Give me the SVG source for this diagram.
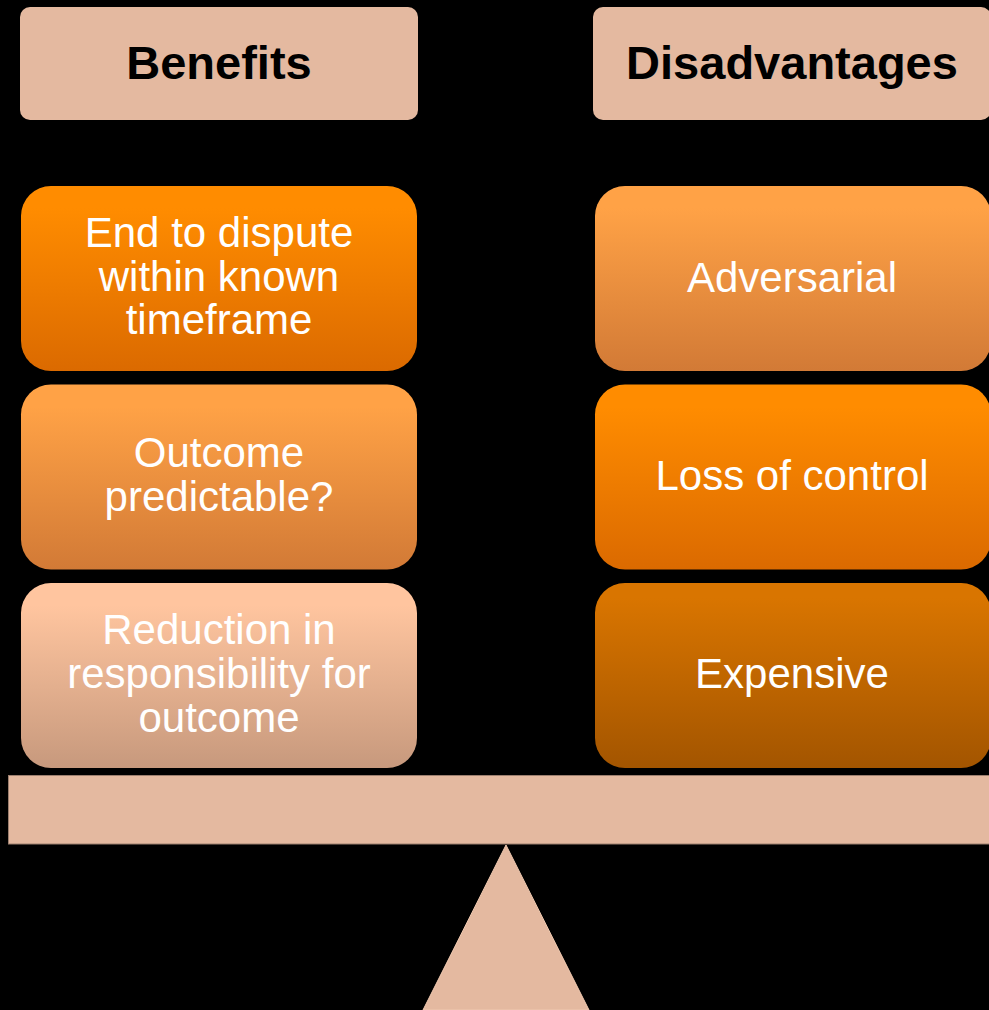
<svg xmlns="http://www.w3.org/2000/svg" width="989" height="1010" viewBox="0 0 989 1010">
  <defs>
    <linearGradient id="gOrange" x1="0" y1="0" x2="0" y2="1">
      <stop offset="0.12" stop-color="#ff8c00"/>
      <stop offset="1" stop-color="#db6a00"/>
    </linearGradient>
    <linearGradient id="gLight" x1="0" y1="0" x2="0" y2="1">
      <stop offset="0.12" stop-color="#ffa246"/>
      <stop offset="1" stop-color="#d27a36"/>
    </linearGradient>
    <linearGradient id="gPale" x1="0" y1="0" x2="0" y2="1">
      <stop offset="0.12" stop-color="#ffc59f"/>
      <stop offset="1" stop-color="#c7997d"/>
    </linearGradient>
    <linearGradient id="gDark" x1="0" y1="0" x2="0" y2="1">
      <stop offset="0.08" stop-color="#d97500"/>
      <stop offset="1" stop-color="#a35500"/>
    </linearGradient>
  </defs>
  <style>
    .hdr { fill: #e4b9a0; }
    .hdr-t { font-family: "Liberation Sans", Arial, sans-serif; font-weight: bold; font-size: 47px; fill: #000; text-anchor: middle; }
    .item-t { font-family: "Liberation Sans", Arial, sans-serif; font-size: 42px; fill: #fff; text-anchor: middle; }
    .base { fill: #e4b9a0; }
  </style>

  <rect width="989" height="1010" fill="#000"/>

  <!-- column headers -->
  <g id="hdr-benefits">
    <rect class="hdr" x="20" y="7" width="398" height="113" rx="10"/>
    <text class="hdr-t" x="219" y="79">Benefits</text>
  </g>
  <g id="hdr-disadvantages">
    <rect class="hdr" x="593" y="7" width="398" height="113" rx="10"/>
    <text class="hdr-t" x="792" y="79">Disadvantages</text>
  </g>

  <!-- benefits column -->
  <g id="b-end">
    <rect x="21" y="186" width="396" height="185" rx="30" fill="url(#gOrange)"/>
    <text class="item-t" x="219" y="247">End to dispute</text>
    <text class="item-t" x="219" y="290.5">within known</text>
    <text class="item-t" x="219" y="334">timeframe</text>
  </g>
  <g id="b-outcome">
    <rect x="21" y="384.5" width="396" height="185" rx="30" fill="url(#gLight)"/>
    <text class="item-t" x="219" y="467">Outcome</text>
    <text class="item-t" x="219" y="511">predictable?</text>
  </g>
  <g id="b-reduction">
    <rect x="21" y="583" width="396" height="185" rx="30" fill="url(#gPale)"/>
    <text class="item-t" x="219" y="644">Reduction in</text>
    <text class="item-t" x="219" y="688">responsibility for</text>
    <text class="item-t" x="219" y="732">outcome</text>
  </g>

  <!-- disadvantages column -->
  <g id="d-adversarial">
    <rect x="595" y="186" width="396" height="185" rx="30" fill="url(#gLight)"/>
    <text class="item-t" x="792" y="292">Adversarial</text>
  </g>
  <g id="d-control">
    <rect x="595" y="384.5" width="396" height="185" rx="30" fill="url(#gOrange)"/>
    <text class="item-t" x="792" y="490">Loss of control</text>
  </g>
  <g id="d-expensive">
    <rect x="595" y="583" width="396" height="185" rx="30" fill="url(#gDark)"/>
    <text class="item-t" x="792" y="688">Expensive</text>
  </g>

  <!-- balance beam and fulcrum -->
  <g id="beam">
    <rect class="base" x="8.5" y="775.5" width="990" height="68.5" stroke="#9c7f6f" stroke-width="1"/>
  </g>
  <g id="fulcrum">
    <polygon class="base" points="506,845 423,1010 589,1010" stroke="#f0c9b0" stroke-width="1"/>
  </g>

  <g id="connectors"></g>
</svg>
